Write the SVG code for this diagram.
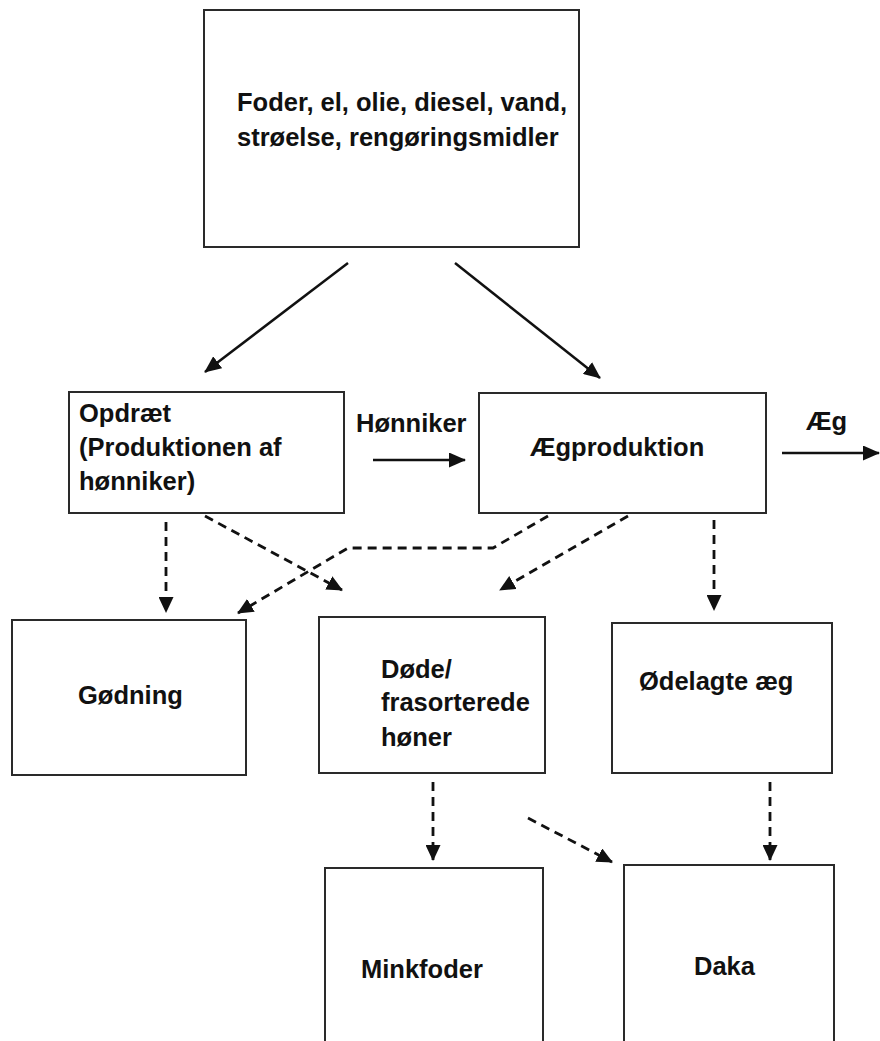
<svg xmlns="http://www.w3.org/2000/svg" width="880" height="1041" viewBox="0 0 880 1041">
<style>
.box{fill:#fff;stroke:#2a2a2a;stroke-width:2}
.t{font-family:"Liberation Sans",Arial,sans-serif;font-weight:bold;font-size:25.5px;fill:#111}
.solid{stroke:#111;stroke-width:2.5;fill:none}
.dash{stroke:#111;stroke-width:2.8;fill:none;stroke-dasharray:9 6}
</style>
<defs>
<marker id="ah" markerUnits="userSpaceOnUse" markerWidth="17" markerHeight="15" refX="16" refY="7.5" orient="auto">
<path d="M0,0 L17,7.5 L0,15 z" fill="#111"/>
</marker>
<marker id="dh" markerUnits="userSpaceOnUse" markerWidth="16" markerHeight="15" refX="15" refY="7.5" orient="auto">
<path d="M0,0 L16,7.5 L0,15 z" fill="#111"/>
</marker>
</defs>
<rect width="880" height="1041" fill="#fff"/>
<g id="connectors">
<line class="solid" x1="348" y1="263" x2="205" y2="372" marker-end="url(#ah)"/>
<line class="solid" x1="455" y1="263" x2="600" y2="378" marker-end="url(#ah)"/>
<line class="solid" x1="373" y1="460" x2="465" y2="460" marker-end="url(#ah)"/>
<line class="solid" x1="782" y1="453" x2="879" y2="453" marker-end="url(#ah)"/>
<path class="dash" d="M166,522 V612" marker-end="url(#dh)"/>
<path class="dash" d="M205,516 L342,590" marker-end="url(#dh)"/>
<path class="dash" d="M548,516 L493,548 L348,548 L238,613" marker-end="url(#dh)"/>
<path class="dash" d="M628,516 L500,590" marker-end="url(#dh)"/>
<path class="dash" d="M714,520 V610" marker-end="url(#dh)"/>
<path class="dash" d="M433,782 V860" marker-end="url(#dh)"/>
<path class="dash" d="M528,818 L612,862" marker-end="url(#dh)"/>
<path class="dash" d="M770,782 V860" marker-end="url(#dh)"/>
<text class="t" x="356" y="432">Hønniker</text>
<text class="t" x="806" y="430">Æg</text>
</g>
<g id="input">
<rect class="box" x="204" y="10" width="375" height="237"/>
<text class="t" x="237" y="111">Foder, el, olie, diesel, vand,</text>
<text class="t" x="237" y="146">strøelse, rengøringsmidler</text>
</g>
<g id="opdraet">
<rect class="box" x="69" y="392" width="275" height="121"/>
<text class="t" x="79" y="422">Opdræt</text>
<text class="t" x="79" y="456">(Produktionen af</text>
<text class="t" x="79" y="490">hønniker)</text>
</g>
<g id="aegproduktion">
<rect class="box" x="479" y="393" width="287" height="120"/>
<text class="t" x="530" y="456">Ægproduktion</text>
</g>
<g id="godning">
<rect class="box" x="12" y="620" width="234" height="155"/>
<text class="t" x="78" y="704">Gødning</text>
</g>
<g id="dode">
<rect class="box" x="319" y="617" width="226" height="156"/>
<text class="t" x="381" y="678">Døde/</text>
<text class="t" x="381" y="711">frasorterede</text>
<text class="t" x="381" y="746">høner</text>
</g>
<g id="odelagte">
<rect class="box" x="612" y="623" width="220" height="150"/>
<text class="t" x="639" y="690">Ødelagte æg</text>
</g>
<g id="minkfoder">
<rect class="box" x="325" y="868" width="218" height="190"/>
<text class="t" x="361" y="978">Minkfoder</text>
</g>
<g id="daka">
<rect class="box" x="624" y="865" width="210" height="190"/>
<text class="t" x="694" y="975">Daka</text>
</g>
</svg>
